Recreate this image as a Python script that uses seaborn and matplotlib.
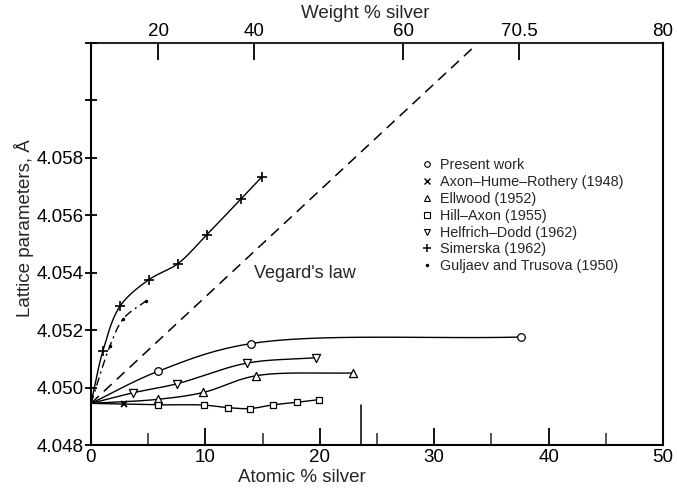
import numpy as np
import matplotlib
matplotlib.use("Agg")
import matplotlib.pyplot as plt
from matplotlib.lines import Line2D
import seaborn as sns

# ---------------- data (atomic % Ag, lattice parameter in Angstrom) ----------------
al_base = 4.04945  # pure aluminium

present_x = [5.83, 13.96, 37.59]
present_y = [4.05056, 4.05153, 4.05176]

axon_x = [2.91]
axon_y = [4.04944]

ellwood_x = [5.83, 9.82, 14.40, 22.93]
ellwood_y = [4.04959, 4.04983, 4.05041, 4.05051]

hill_x = [5.83, 9.88, 11.95, 13.90, 15.94, 18.03, 19.96]
hill_y = [4.04940, 4.04939, 4.04930, 4.04927, 4.04940, 4.04949, 4.04958]

helfrich_x = [3.70, 7.49, 13.61, 19.64]
helfrich_y = [4.04982, 4.05013, 4.05085, 4.05104]

simerska_x = [1.05, 2.53, 5.03, 7.58, 10.11, 13.09, 14.92]
simerska_y = [4.05129, 4.05283, 4.05375, 4.05431, 4.05532, 4.05656, 4.05733]

guljaev_x = [1.66, 2.83, 4.81]
guljaev_y = [4.05145, 4.05240, 4.05302]

vegard_x = [0.0, 33.57]
vegard_y = [al_base, 4.0619]

legend_labels = ["Present work", "Axon\u2013Hume\u2013Rothery (1948)", "Ellwood (1952)",
                 "Hill\u2013Axon (1955)", "Helfrich\u2013Dodd (1962)", "Simerska (1962)",
                 "Guljaev and Trusova (1950)"]

wt_ticks = [20, 40, 60, 70.5, 79.99]
wt_tick_labels = ["20", "40", "60", "70.5", "80"]
at_ticks = [0, 10, 20, 30, 40, 50]
y_ticks = [4.048, 4.050, 4.052, 4.054, 4.056, 4.058, 4.060, 4.062]
y_tick_labels = ["4.048", "4.050", "4.052", "4.054", "4.056", "4.058", "", ""]

M_AG, M_AL = 107.87, 26.98


def wt2at(w):
    w = np.asarray(w, dtype=float)
    a = w / M_AG
    b = (100 - w) / M_AL
    with np.errstate(divide="ignore", invalid="ignore"):
        return 100 * a / (a + b)


def at2wt(a):
    a = np.asarray(a, dtype=float)
    m = a * M_AG
    n = (100 - a) * M_AL
    with np.errstate(divide="ignore", invalid="ignore"):
        return 100 * m / (m + n)


def smooth(xs, ys, n=40, alpha=0.5):
    """Centripetal Catmull-Rom curve through the given points (drawing aid only)."""
    sc = np.array([1.0, 1.0 / 0.0004])
    q = np.column_stack([xs, ys]).astype(float) * sc
    q = np.vstack([2 * q[0] - q[1], q, 2 * q[-1] - q[-2]])
    out = []
    for i in range(1, len(q) - 2):
        P0, P1, P2, P3 = q[i - 1], q[i], q[i + 1], q[i + 2]
        t0 = 0.0
        t1 = t0 + np.linalg.norm(P1 - P0) ** alpha
        t2 = t1 + np.linalg.norm(P2 - P1) ** alpha
        t3 = t2 + np.linalg.norm(P3 - P2) ** alpha
        t = np.linspace(t1, t2, n)[:, None]
        A1 = (t1 - t) / (t1 - t0) * P0 + (t - t0) / (t1 - t0) * P1
        A2 = (t2 - t) / (t2 - t1) * P1 + (t - t1) / (t2 - t1) * P2
        A3 = (t3 - t) / (t3 - t2) * P2 + (t - t2) / (t3 - t2) * P3
        B1 = (t2 - t) / (t2 - t0) * A1 + (t - t0) / (t2 - t0) * A2
        B2 = (t3 - t) / (t3 - t1) * A2 + (t - t1) / (t3 - t1) * A3
        C = (t2 - t) / (t2 - t1) * B1 + (t - t1) / (t2 - t1) * B2
        out.append(C if i == len(q) - 3 else C[:-1])
    r = np.vstack(out) / sc
    return r[:, 0], r[:, 1]


sns.set_style("ticks")
plt.rcParams["font.family"] = ["Liberation Sans", "DejaVu Sans"]

fig = plt.figure(figsize=(6.77, 4.92), dpi=100)
ax = fig.add_axes([91 / 677, 1 - 445 / 492, (663 - 91) / 677, (445 - 43) / 492])

ax.set_xlim(0, 50)
ax.set_ylim(4.048, 4.0619)

lw = 1.0
mk = dict(color="white", edgecolor="black", linewidth=0.9, zorder=4, legend=False)

# curves from the pure-Al point
for xs, ys in [(present_x, present_y), (helfrich_x, helfrich_y),
               (ellwood_x, ellwood_y), (hill_x, hill_y), (simerska_x, simerska_y)]:
    cx, cy = smooth([0.0] + xs, [al_base] + ys)
    sns.lineplot(x=cx, y=cy, ax=ax, color="black", lw=lw, sort=False, zorder=2)

gx, gy = smooth([0.0] + guljaev_x, [al_base] + guljaev_y)
sns.lineplot(x=gx, y=gy, ax=ax, color="black", lw=lw, sort=False, zorder=2)
ax.lines[-1].set_dashes([6, 3, 1.5, 3])

# Vegard's law
sns.lineplot(x=vegard_x, y=vegard_y, ax=ax, color="black", lw=1.1, zorder=2)
ax.lines[-1].set_dashes([7, 4.5])
ax.text(14.25, 4.05398, "Vegard's law", fontsize=13, va="center", ha="left")

# markers
sns.scatterplot(x=present_x, y=present_y, ax=ax, marker="o", s=30, **mk)
sns.scatterplot(x=ellwood_x, y=ellwood_y, ax=ax, marker="^", s=34, **mk)
sns.scatterplot(x=hill_x, y=hill_y, ax=ax, marker="s", s=22, **mk)
sns.scatterplot(x=helfrich_x, y=helfrich_y, ax=ax, marker="v", s=34, **mk)
ax.plot(axon_x, axon_y, linestyle="none", marker="x", ms=5, mew=1.3, color="black", zorder=5)
ax.plot(simerska_x, simerska_y, linestyle="none", marker="+", ms=7, mew=1.2, color="black", zorder=5)
ax.plot(guljaev_x, guljaev_y, linestyle="none", marker=".", ms=3, color="black", zorder=5)

# solubility mark near 23.6 at.%
ax.plot([23.6, 23.6], [4.048, 4.0494], color="black", lw=1.1, zorder=3)

# legend
handles = [
    Line2D([], [], ls="none", marker="o", ms=4, mfc="white", mec="black", mew=0.8),
    Line2D([], [], ls="none", marker="x", ms=4, mec="black", mew=1.0),
    Line2D([], [], ls="none", marker="^", ms=4.5, mfc="white", mec="black", mew=0.8),
    Line2D([], [], ls="none", marker="s", ms=4, mfc="white", mec="black", mew=0.8),
    Line2D([], [], ls="none", marker="v", ms=4.5, mfc="white", mec="black", mew=0.8),
    Line2D([], [], ls="none", marker="+", ms=6, mec="black", mew=1.1),
    Line2D([], [], ls="none", marker=".", ms=3, mec="black", mfc="black"),
]
ax.legend(handles, legend_labels, loc="upper left",
          bbox_to_anchor=(423 / 677, 1 - 158 / 492), bbox_transform=fig.transFigure,
          frameon=False, fontsize=10.4, handlelength=0.6, handletextpad=0.6,
          labelspacing=0.2, borderaxespad=0, borderpad=0)

# axes styling
for s in ["left", "bottom", "right", "top"]:
    ax.spines[s].set_linewidth(1.5)
    ax.spines[s].set_color("black")
ax.spines["top"].set_visible(False)

ax.set_xticks(at_ticks)
ax.set_xticks([5, 15, 25, 35, 45], minor=True)
ax.tick_params(axis="x", which="major", direction="in", length=12, width=1.3,
               labelsize=13.5, pad=3, colors="black")
ax.tick_params(axis="x", which="minor", direction="in", length=9, width=1.1)
ax.set_yticks(y_ticks)
ax.set_yticklabels(y_tick_labels)
ax.tick_params(axis="y", direction="inout", length=9, width=1.3, labelsize=13.5,
               pad=1, colors="black", right=False)

ax.set_xlabel("Atomic % silver", fontsize=13.5)
ax.xaxis.set_label_coords((302 - 91) / 572, -0.06)
ax.set_ylabel("Lattice parameters, \u00c5", fontsize=13.5)
ax.yaxis.set_label_coords(-0.1, (445 - 228) / 402)

sec = ax.secondary_xaxis("top", functions=(at2wt, wt2at))
sec.set_xticks(wt_ticks)
sec.set_xticklabels(wt_tick_labels)
sec.tick_params(direction="in", length=12, width=1.3, labelsize=13.5, pad=2, colors="black")
sec.spines["top"].set_linewidth(1.5)
fig.text(365 / 677, 1 - 13 / 492, "Weight % silver", fontsize=13.5, ha="center", va="center")

fig.savefig("out.png", dpi=100, facecolor="white")
